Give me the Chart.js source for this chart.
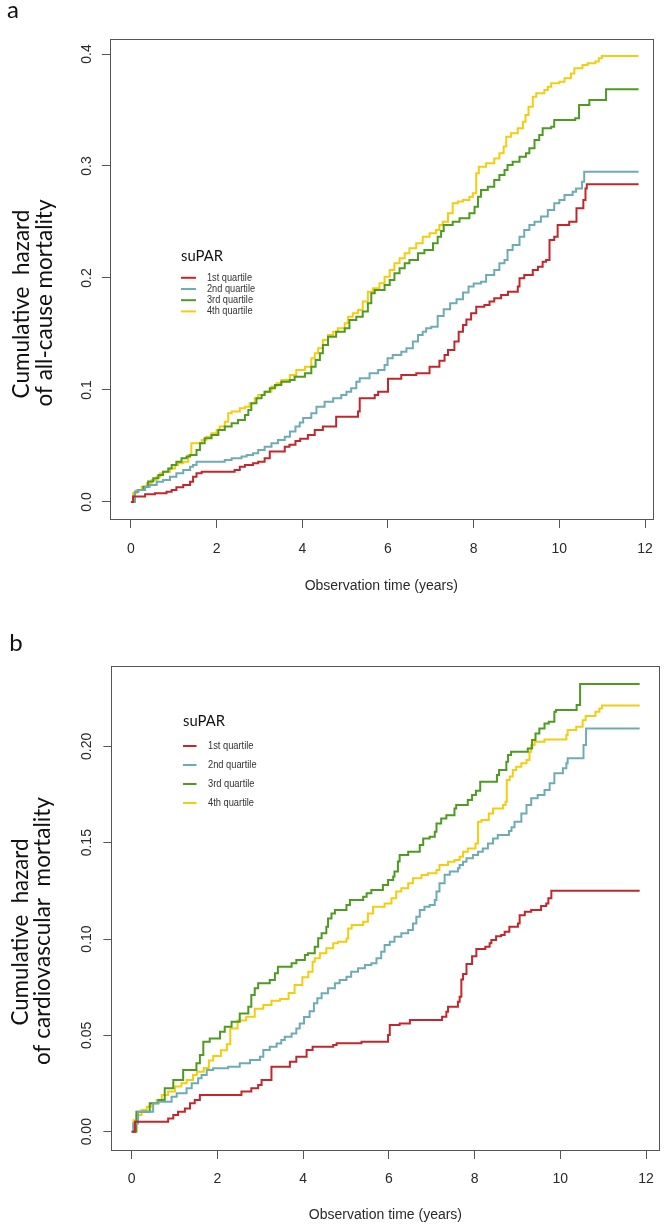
<!DOCTYPE html>
<html>
<head>
<meta charset="utf-8">
<script src="https://cdn.jsdelivr.net/npm/chart.js@4/dist/chart.umd.min.js"></script>
<style>
  html, body { margin: 0; padding: 0; background: #ffffff; }
  body { width: 666px; height: 1227px; position: relative; overflow: hidden; }
  canvas { position: absolute; left: 0; }
  #ca { top: 0; }
  #cb { top: 610px; }
</style>
</head>
<body>
<canvas id="ca" width="666" height="610"></canvas>
<canvas id="cb" width="666" height="617"></canvas>
<script>
// ---------------- DATA ----------------
const seriesLabels = ['1st quartile', '2nd quartile', '3rd quartile', '4th quartile'];
const xTicks = [0, 2, 4, 6, 8, 10, 12];
const xTickLabels = ['0', '2', '4', '6', '8', '10', '12'];
const yTicksA = [0, 0.1, 0.2, 0.3, 0.4];
const yTickLabelsA = ['0.0', '0.1', '0.2', '0.3', '0.4'];
const yTicksB = [0, 0.05, 0.10, 0.15, 0.20];
const yTickLabelsB = ['0.00', '0.05', '0.10', '0.15', '0.20'];

// Panel a: cumulative hazard of all-cause mortality  [time (years), hazard]
const aQ1 = [[0,0],[0.05,0.0048],[0.33,0.0068],[0.56,0.0077],[0.83,0.0092],[0.95,0.0107],[1.06,0.0131],[1.22,0.0152],[1.38,0.018],[1.45,0.0226],[1.53,0.0256],[1.65,0.027],[2.42,0.0286],[2.54,0.0315],[2.66,0.033],[2.85,0.0345],[2.97,0.036],[3.12,0.039],[3.24,0.045],[3.59,0.0494],[3.70,0.051],[3.84,0.0545],[3.95,0.0565],[4.13,0.0598],[4.29,0.0643],[4.48,0.0673],[4.79,0.0762],[5.30,0.0807],[5.34,0.0926],[5.69,0.0955],[5.77,0.0985],[6.00,0.110],[6.31,0.1134],[6.66,0.1149],[6.97,0.1208],[7.20,0.126],[7.32,0.1313],[7.40,0.1357],[7.55,0.1432],[7.65,0.152],[7.75,0.158],[7.83,0.163],[7.94,0.1685],[8.06,0.1744],[8.25,0.1759],[8.37,0.1789],[8.48,0.1818],[8.64,0.1848],[8.80,0.1878],[9.03,0.1923],[9.07,0.1997],[9.18,0.2027],[9.38,0.2071],[9.50,0.2101],[9.61,0.2146],[9.69,0.2161],[9.77,0.2339],[9.88,0.2369],[9.96,0.2473],[10.23,0.2503],[10.40,0.2622],[10.56,0.2696],[10.61,0.280],[10.64,0.2836],[11.85,0.2836]];
const aQ2 = [[0,0],[0.093,0.0092],[0.17,0.0107],[0.33,0.0137],[0.44,0.0152],[0.60,0.018],[0.75,0.0196],[0.91,0.0226],[1.06,0.0256],[1.22,0.0286],[1.38,0.0315],[1.45,0.033],[1.53,0.036],[2.19,0.0375],[2.35,0.039],[2.58,0.0405],[2.70,0.042],[2.85,0.0435],[2.97,0.0464],[3.12,0.0494],[3.28,0.0524],[3.43,0.0554],[3.59,0.0583],[3.71,0.063],[3.84,0.0675],[3.94,0.071],[4.02,0.075],[4.21,0.0792],[4.33,0.0851],[4.52,0.0896],[4.72,0.0926],[4.91,0.0955],[5.03,0.0985],[5.14,0.1015],[5.26,0.1074],[5.34,0.1104],[5.57,0.1149],[5.77,0.1179],[5.92,0.1223],[5.99,0.1283],[6.11,0.1313],[6.31,0.1342],[6.43,0.1372],[6.58,0.1432],[6.70,0.1491],[6.81,0.1521],[6.89,0.1551],[7.01,0.1565],[7.16,0.166],[7.30,0.172],[7.45,0.1774],[7.60,0.181],[7.75,0.187],[7.88,0.1923],[8.0,0.195],[8.17,0.1967],[8.29,0.2027],[8.48,0.2071],[8.60,0.2131],[8.72,0.2161],[8.79,0.225],[8.91,0.2295],[9.07,0.2369],[9.18,0.2429],[9.30,0.2473],[9.42,0.2503],[9.57,0.2548],[9.73,0.2607],[9.88,0.2667],[10.00,0.2696],[10.12,0.2741],[10.31,0.2771],[10.39,0.280],[10.53,0.286],[10.58,0.2949],[11.85,0.2949]];
const aQ3 = [[0,0],[0.09,0.0092],[0.17,0.0107],[0.29,0.0137],[0.40,0.0182],[0.52,0.0211],[0.64,0.0241],[0.75,0.0271],[0.87,0.030],[0.95,0.033],[1.06,0.036],[1.18,0.039],[1.30,0.0405],[1.38,0.042],[1.53,0.0464],[1.61,0.0524],[1.72,0.0568],[1.88,0.0598],[2.04,0.0643],[2.19,0.0673],[2.35,0.0702],[2.50,0.0732],[2.66,0.0777],[2.74,0.0821],[2.81,0.0881],[2.93,0.0926],[3.05,0.0955],[3.12,0.0985],[3.24,0.1015],[3.36,0.1045],[3.51,0.1074],[3.71,0.109],[3.82,0.1119],[4.06,0.1149],[4.21,0.1208],[4.31,0.1268],[4.41,0.1327],[4.48,0.1402],[4.60,0.1476],[4.79,0.1521],[4.99,0.1551],[5.10,0.1625],[5.26,0.1655],[5.41,0.17],[5.53,0.1774],[5.61,0.1863],[5.69,0.1893],[5.92,0.1938],[6.04,0.1982],[6.15,0.2042],[6.27,0.2086],[6.39,0.2131],[6.50,0.2161],[6.70,0.222],[6.85,0.225],[7.05,0.231],[7.16,0.2369],[7.24,0.242],[7.30,0.2473],[7.51,0.2503],[7.67,0.2533],[7.90,0.2577],[8.02,0.2637],[8.10,0.2726],[8.17,0.2786],[8.33,0.2815],[8.48,0.2875],[8.60,0.292],[8.72,0.2964],[8.79,0.3009],[8.91,0.3039],[9.07,0.3083],[9.22,0.3113],[9.30,0.3158],[9.42,0.3232],[9.53,0.3277],[9.61,0.3336],[9.81,0.3351],[9.88,0.3411],[10.37,0.3426],[10.46,0.3545],[10.70,0.3589],[11.09,0.3685],[11.85,0.3685]];
const aQ4 = [[0,0],[0.05,0.0077],[0.13,0.0107],[0.25,0.0137],[0.37,0.0167],[0.48,0.0196],[0.60,0.0226],[0.68,0.0256],[0.75,0.0271],[0.91,0.030],[1.03,0.033],[1.10,0.0345],[1.22,0.036],[1.34,0.042],[1.41,0.0524],[1.65,0.0554],[1.76,0.0583],[1.88,0.0613],[2.00,0.0643],[2.07,0.0673],[2.19,0.0717],[2.27,0.0792],[2.35,0.0807],[2.54,0.0836],[2.66,0.0851],[2.77,0.0881],[2.89,0.0926],[2.97,0.0955],[3.12,0.0985],[3.28,0.103],[3.40,0.106],[3.51,0.1089],[3.71,0.1134],[3.86,0.1179],[4.06,0.1208],[4.21,0.1283],[4.29,0.1327],[4.37,0.1372],[4.48,0.1446],[4.60,0.1491],[4.72,0.1521],[4.83,0.1551],[4.99,0.1595],[5.07,0.1655],[5.18,0.1685],[5.30,0.1714],[5.41,0.1789],[5.53,0.1878],[5.65,0.1908],[5.80,0.1952],[5.92,0.2012],[6.04,0.2071],[6.15,0.2131],[6.27,0.2176],[6.39,0.222],[6.50,0.2265],[6.66,0.231],[6.81,0.2369],[6.97,0.2399],[7.12,0.2429],[7.20,0.2473],[7.28,0.2503],[7.40,0.2577],[7.51,0.2667],[7.63,0.2682],[7.75,0.2696],[7.90,0.2726],[7.98,0.2756],[8.06,0.2935],[8.12,0.2994],[8.29,0.3024],[8.48,0.3068],[8.60,0.3113],[8.70,0.3173],[8.76,0.3262],[8.87,0.3292],[9.03,0.3336],[9.15,0.3396],[9.21,0.3455],[9.28,0.353],[9.38,0.3619],[9.46,0.3649],[9.65,0.3679],[9.73,0.3708],[9.81,0.3738],[10.00,0.3753],[10.12,0.3783],[10.27,0.3827],[10.35,0.3872],[10.54,0.3902],[10.66,0.3917],[10.84,0.3932],[10.92,0.3961],[10.99,0.3982],[11.85,0.3982]];

// Panel b: cumulative hazard of cardiovascular mortality  [time (years), hazard]
const bQ1 = [[0,0],[0.075,0.0052],[0.85,0.0069],[0.97,0.0087],[1.08,0.0104],[1.24,0.0121],[1.36,0.0147],[1.47,0.0164],[1.59,0.019],[2.56,0.0208],[2.79,0.0225],[2.95,0.0242],[3.03,0.0268],[3.26,0.0337],[3.69,0.0363],[3.84,0.0389],[4.08,0.0424],[4.22,0.0441],[4.70,0.045],[4.78,0.0459],[5.36,0.0467],[5.98,0.0502],[6.02,0.0554],[6.25,0.0562],[6.49,0.058],[7.24,0.0597],[7.34,0.0623],[7.38,0.0649],[7.61,0.0675],[7.65,0.070],[7.69,0.079],[7.73,0.0818],[7.81,0.087],[7.94,0.091],[8.04,0.0948],[8.25,0.096],[8.35,0.0978],[8.39,0.0995],[8.50,0.1015],[8.62,0.1021],[8.70,0.1038],[8.81,0.1064],[9.01,0.1081],[9.05,0.1124],[9.17,0.1142],[9.32,0.115],[9.55,0.1171],[9.67,0.1185],[9.72,0.1211],[9.79,0.1251],[11.85,0.1251]];
const bQ2 = [[0,0],[0.036,0.0043],[0.15,0.0104],[0.50,0.0147],[0.62,0.0156],[0.93,0.0182],[1.05,0.0199],[1.28,0.0225],[1.40,0.0251],[1.55,0.0277],[1.63,0.0294],[1.75,0.032],[1.90,0.0329],[2.25,0.0337],[2.52,0.0355],[2.76,0.0372],[2.99,0.0389],[3.07,0.0424],[3.22,0.0441],[3.38,0.0458],[3.49,0.0476],[3.57,0.0493],[3.73,0.051],[3.84,0.0536],[3.92,0.0562],[4.02,0.0595],[4.15,0.0625],[4.25,0.0666],[4.33,0.0692],[4.43,0.0718],[4.58,0.0744],[4.74,0.077],[4.85,0.0787],[5.01,0.0804],[5.12,0.083],[5.28,0.0848],[5.44,0.0865],[5.59,0.0874],[5.71,0.09],[5.82,0.0934],[5.90,0.0969],[6.02,0.0986],[6.13,0.1012],[6.29,0.103],[6.45,0.1047],[6.56,0.1081],[6.64,0.1116],[6.72,0.1151],[6.83,0.1168],[6.95,0.1177],[7.07,0.1202],[7.11,0.1246],[7.18,0.1289],[7.30,0.1333],[7.42,0.135],[7.61,0.1367],[7.65,0.1384],[7.73,0.1401],[7.81,0.1419],[7.96,0.1436],[8.08,0.1453],[8.19,0.147],[8.31,0.1496],[8.43,0.1522],[8.54,0.154],[8.80,0.156],[8.86,0.158],[8.93,0.1609],[9.09,0.1652],[9.21,0.1695],[9.32,0.173],[9.47,0.1747],[9.63,0.1773],[9.75,0.1808],[9.86,0.186],[10.06,0.1886],[10.14,0.1912],[10.17,0.1938],[10.54,0.2007],[10.60,0.2093],[11.85,0.2093]];
const bQ3 = [[0,0],[0.11,0.0104],[0.42,0.0147],[0.62,0.0164],[0.77,0.0225],[0.97,0.0268],[1.20,0.032],[1.51,0.0355],[1.59,0.0398],[1.67,0.0467],[1.82,0.0484],[2.06,0.0519],[2.17,0.0545],[2.33,0.0571],[2.52,0.0614],[2.72,0.0649],[2.79,0.0709],[2.87,0.0744],[2.95,0.077],[3.22,0.0787],[3.34,0.0822],[3.41,0.0856],[3.73,0.0874],[3.84,0.0891],[4.04,0.0917],[4.11,0.0926],[4.27,0.096],[4.35,0.1004],[4.43,0.103],[4.54,0.1064],[4.58,0.1107],[4.66,0.1133],[4.74,0.115],[5.01,0.1177],[5.09,0.1202],[5.40,0.122],[5.48,0.1237],[5.59,0.1254],[5.86,0.128],[5.98,0.1306],[6.10,0.1324],[6.13,0.135],[6.21,0.1402],[6.25,0.1436],[6.45,0.1453],[6.72,0.1488],[6.80,0.1522],[6.95,0.1531],[7.07,0.1557],[7.11,0.16],[7.22,0.1626],[7.34,0.1643],[7.53,0.1678],[7.57,0.1695],[7.84,0.1721],[7.94,0.1747],[8.03,0.177],[8.13,0.1816],[8.52,0.1851],[8.57,0.1877],[8.74,0.192],[8.78,0.1955],[8.85,0.1972],[9.24,0.1989],[9.34,0.2033],[9.42,0.2067],[9.51,0.2093],[9.63,0.2119],[9.73,0.2128],[9.86,0.218],[9.90,0.2188],[10.38,0.2214],[10.46,0.2323],[11.85,0.2323]];
const bQ4 = [[0,0],[0.04,0.006],[0.11,0.0087],[0.23,0.0112],[0.35,0.013],[0.46,0.0147],[0.58,0.0164],[0.70,0.019],[0.85,0.0208],[1.01,0.0234],[1.16,0.0251],[1.28,0.0268],[1.43,0.0294],[1.52,0.0311],[1.68,0.0331],[1.80,0.037],[1.90,0.0393],[2.08,0.0423],[2.22,0.0454],[2.30,0.0536],[2.47,0.0577],[2.67,0.0597],[2.87,0.0638],[3.07,0.0658],[3.26,0.0679],[3.46,0.0689],[3.66,0.072],[3.80,0.0761],[3.98,0.0802],[4.12,0.083],[4.22,0.0882],[4.27,0.090],[4.39,0.0926],[4.54,0.0952],[4.70,0.0978],[4.81,0.0986],[5.01,0.1003],[5.05,0.1055],[5.13,0.1073],[5.40,0.109],[5.51,0.1133],[5.63,0.1168],[5.90,0.1185],[6.06,0.1211],[6.17,0.1246],[6.29,0.1263],[6.45,0.1289],[6.56,0.1315],[6.76,0.1332],[6.91,0.1341],[7.11,0.1358],[7.18,0.1384],[7.38,0.1401],[7.53,0.141],[7.65,0.1427],[7.73,0.1453],[7.84,0.147],[8.02,0.1496],[8.08,0.1609],[8.16,0.1618],[8.33,0.1652],[8.43,0.1678],[8.66,0.1695],[8.72,0.1713],[8.75,0.1825],[8.82,0.1843],[8.89,0.1877],[8.97,0.1894],[9.09,0.1912],[9.21,0.1929],[9.28,0.1972],[9.32,0.2007],[9.40,0.2024],[9.63,0.2036],[10.14,0.2059],[10.17,0.2085],[10.37,0.2102],[10.52,0.2136],[10.59,0.2157],[10.82,0.218],[10.91,0.2197],[10.97,0.2212],[11.85,0.2212]];

// ---------------- STYLE ----------------
const COLORS = ['#c2272d', '#6eacb4', '#4e9a22', '#f3cd10'];
const AXIS_COLOR = '#555555';
const TEXT_COLOR = '#2a2a2a';
const SANS = '"Liberation Sans", Arial, sans-serif';
const HUMAN = 'Lato, "Open Sans", sans-serif';

function fitFont(ctx, text, family, targetLen, base) {
  ctx.font = base + 'px ' + family;
  const w = ctx.measureText(text).width;
  return base * targetLen / w;
}

const decor = {
  id: 'decor',
  afterDraw(chart, args, o) {
    const { ctx, chartArea: a } = chart;
    ctx.save();
    // plot box
    ctx.strokeStyle = AXIS_COLOR;
    ctx.lineWidth = 1;
    ctx.strokeRect(Math.round(a.left) + 0.5, Math.round(a.top) + 0.5,
                   Math.round(a.right - a.left), Math.round(a.bottom - a.top));
    // rotated y tick labels (R style, parallel to axis)
    const ys = chart.scales.y;
    ctx.fillStyle = TEXT_COLOR;
    ctx.font = o.tickSize + 'px ' + SANS;
    ctx.textAlign = 'center';
    ctx.textBaseline = 'middle';
    ys.ticks.forEach(t => {
      const py = ys.getPixelForValue(t.value);
      ctx.save();
      ctx.translate(o.yLabelX, py);
      ctx.rotate(-Math.PI / 2);
      ctx.fillText(t.label, 0, 0);
      ctx.restore();
    });
    // y axis title (two lines)
    o.yTitle.forEach(l => {
      const size = fitFont(ctx, l.text, HUMAN, l.len, 24);
      ctx.save();
      ctx.font = size + 'px ' + HUMAN;
      ctx.fillStyle = '#111';
      ctx.translate(l.x, l.y);
      ctx.rotate(-Math.PI / 2);
      ctx.textAlign = 'center';
      ctx.textBaseline = 'middle';
      ctx.fillText(l.text, 0, 0);
      ctx.restore();
    });
    // panel letter
    ctx.font = o.letter.size + 'px ' + HUMAN;
    ctx.fillStyle = '#111';
    ctx.textAlign = 'center';
    ctx.textBaseline = 'middle';
    ctx.fillText(o.letter.text, o.letter.x, o.letter.y);
    // legend
    const L = o.legend;
    const tsize = fitFont(ctx, L.title, HUMAN, L.titleLen, 16);
    ctx.font = tsize + 'px ' + HUMAN;
    ctx.fillStyle = '#111';
    ctx.textAlign = 'left';
    ctx.fillText(L.title, L.x, L.titleY);
    ctx.font = L.labelSize + 'px ' + SANS;
    const k = L.labelLen / ctx.measureText(chart.data.datasets[0].label).width;
    chart.data.datasets.forEach((ds, i) => {
      const y = L.y0 + i * L.dy;
      ctx.strokeStyle = ds.borderColor;
      ctx.lineWidth = 2;
      ctx.beginPath();
      ctx.moveTo(L.x, y);
      ctx.lineTo(L.x2, y);
      ctx.stroke();
      ctx.save();
      ctx.fillStyle = '#333';
      ctx.translate(L.labelX, y);
      ctx.scale(k, 1);
      ctx.textBaseline = 'middle';
      ctx.fillText(ds.label, 0, 0);
      ctx.restore();
    });
    ctx.restore();
  }
};

function makeChart(id, series, P) {
  const datasets = series.map((s, i) => ({
    label: seriesLabels[i],
    data: s.map(([x, y]) => ({ x, y })),
    borderColor: COLORS[i],
    backgroundColor: COLORS[i],
    borderWidth: 2,
    pointRadius: 0,
    stepped: true,
    fill: false,
    tension: 0
  }));
  return new Chart(document.getElementById(id), {
    type: 'line',
    data: { datasets },
    options: {
      responsive: false,
      animation: false,
      events: [],
      layout: { padding: P.padding },
      plugins: {
        legend: { display: false },
        tooltip: { enabled: false },
        decor: P.decor
      },
      scales: {
        x: {
          type: 'linear',
          min: P.xMin, max: P.xMax,
          afterBuildTicks: s => { s.ticks = xTicks.map(v => ({ value: v })); },
          afterFit: s => { s.height = P.xAxisHeight; },
          border: { display: false },
          grid: { display: true, drawOnChartArea: false, drawTicks: true, tickLength: 9, color: AXIS_COLOR, lineWidth: 1 },
          ticks: {
            color: TEXT_COLOR, padding: P.xTickPad, maxRotation: 0, autoSkip: false,
            font: { family: SANS, size: 14 },
            callback: (v) => { const i = xTicks.indexOf(v); return i >= 0 ? xTickLabels[i] : ''; }
          },
          title: {
            display: true, text: 'Observation time (years)', color: TEXT_COLOR,
            font: { family: SANS, size: 14 }, padding: { top: 0, bottom: P.xTitlePad }
          }
        },
        y: {
          type: 'linear',
          min: P.yMin, max: P.yMax,
          afterBuildTicks: s => { s.ticks = P.yTicks.map(v => ({ value: v })); },
          afterFit: s => { s.width = P.yAxisWidth; },
          border: { display: false },
          grid: { display: true, drawOnChartArea: false, drawTicks: true, tickLength: 8, color: AXIS_COLOR, lineWidth: 1 },
          ticks: {
            display: false,
            callback: (v) => { const i = P.yTicks.indexOf(v); return i >= 0 ? P.yTickLabels[i] : ''; }
          }
        }
      }
    },
    plugins: [decor]
  });
}

makeChart('ca', [aQ1, aQ2, aQ3, aQ4], {
  padding: { top: 39, right: 12.5, bottom: 0, left: 0 },
  xMin: -0.494, xMax: 12.18, yMin: -0.0152, yMax: 0.4134,
  yTicks: yTicksA, yTickLabels: yTickLabelsA,
  xAxisHeight: 91, yAxisWidth: 109.8, xTickPad: 13, xTitlePad: 15.6,
  decor: {
    tickSize: 14, yLabelX: 87.2,
    yTitle: [
      { text: 'Cumulative  hazard', x: 21.4, y: 304, len: 189 },
      { text: 'of all-cause mortality', x: 44.8, y: 303, len: 207 }
    ],
    letter: { text: 'a', x: 13, y: 10, size: 24 },
    legend: { title: 'suPAR', titleLen: 42, x: 181, x2: 196, titleY: 256, y0: 277.8, dy: 11.2, labelX: 207, labelSize: 11, labelLen: 45 }
  }
});

makeChart('cb', [bQ1, bQ2, bQ3, bQ4], {
  padding: { top: 56, right: 5, bottom: 0, left: 0 },
  xMin: -0.474, xMax: 12.31, yMin: -0.0095, yMax: 0.2417,
  yTicks: yTicksB, yTickLabels: yTickLabelsB,
  xAxisHeight: 77, yAxisWidth: 111.4, xTickPad: 12, xTitlePad: 3.8,
  decor: {
    tickSize: 14, yLabelX: 87.2,
    yTitle: [
      { text: 'Cumulative  hazard', x: 21.3, y: 322, len: 187 },
      { text: 'of cardiovascular  mortality', x: 42.5, y: 321, len: 268 }
    ],
    letter: { text: 'b', x: 16, y: 33.5, size: 24 },
    legend: { title: 'suPAR', titleLen: 42, x: 183, x2: 196.5, titleY: 111.5, y0: 136, dy: 19.0, labelX: 208, labelSize: 11, labelLen: 45.5 }
  }
});
</script>
</body>
</html>
